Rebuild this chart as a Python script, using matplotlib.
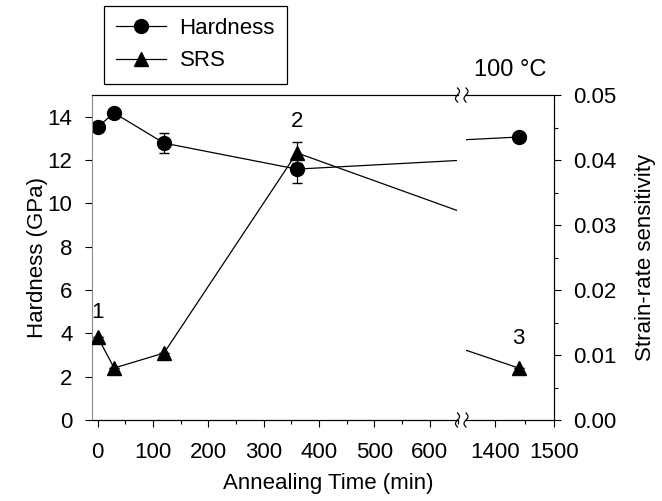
import numpy as np
import matplotlib.pyplot as plt
from matplotlib.lines import Line2D

plt.rcParams['font.family'] = ['Liberation Sans', 'DejaVu Sans']
plt.rcParams['font.size'] = 16

time = [0, 30, 120, 360, 1440]
hardness = [13.52, 14.17, 12.78, 11.58, 13.06]
hardness_err = [0.0, 0.0, 0.45, 0.62, 0.0]
srs = [0.0128, 0.0080, 0.0103, 0.0411, 0.0080]
srs_err = [0.0, 0.0, 0.0, 0.0016, 0.0]
point_labels = ['1', '2', '3']
point_label_idx = [0, 3, 4]
label_offset_px = [24, 31, 30]

W, H = 662, 501
fig = plt.figure(figsize=(W / 100, H / 100), dpi=100)

def fx(px):
    return px / W

def fy(py):
    return 1 - py / H

bot, top = fy(420), fy(95)
ax1 = fig.add_axes([fx(92), bot, fx(457.5) - fx(92), top - bot])
ax2 = fig.add_axes([fx(465.5), bot, fx(554) - fx(465.5), top - bot])
ax1r = ax1.twinx()
ax2r = ax2.twinx()

for a, ar in [(ax1, ax1r), (ax2, ax2r)]:
    a.errorbar(time, hardness, yerr=hardness_err, color='black', marker='o',
               markersize=10, linewidth=0.9, capsize=3.5, elinewidth=0.9)
    ar.errorbar(time, srs, yerr=srs_err, color='black', marker='^',
                markersize=10, linewidth=0.9, capsize=3.5, elinewidth=0.9)
    a.set_ylim(0, 15)
    ar.set_ylim(0, 0.05)
    for b in (a, ar):
        b.tick_params(direction='out', length=5, width=0.8, pad=9, which='major')
        b.tick_params(direction='out', length=3, width=0.8, which='minor')
    a.tick_params(axis='x', which='major', pad=11)

ax1.set_xlim(-10, 650)
ax2.set_xlim(1350, 1500)
ax1.set_xticks(np.arange(0, 601, 100))
ax1.set_xticks(np.arange(50, 651, 50), minor=True)
ax2.set_xticks([1400, 1500])
ax2.set_xticks([1450], minor=True)

ax1.set_yticks(np.arange(0, 15, 2))
ax1.spines['left'].set_color('#8c8c8c')
ax1.spines['right'].set_visible(False)
ax1r.spines['right'].set_visible(False)
ax1r.spines['left'].set_visible(False)
ax1r.set_yticks([])
ax1r.tick_params(right=False, labelright=False)

ax2.spines['left'].set_visible(False)
ax2r.spines['left'].set_visible(False)
ax2.set_yticks([])
ax2.tick_params(left=False, labelleft=False)
srs_ticks = np.arange(0, 0.051, 0.01)
ax2r.set_yticks(srs_ticks)
ax2r.set_yticks(np.arange(0.005, 0.05, 0.01), minor=True)
ax2r.set_yticklabels(['%.2f' % v for v in srs_ticks])

fig.text(fx(38), fy(257), 'Hardness (GPa)', rotation=90, ha='center', va='center')
fig.text(fx(645), fy(257), 'Strain-rate sensitivity', rotation=90, ha='center', va='center')
fig.text(fx(328), fy(484), 'Annealing Time (min)', ha='center', va='center')

# point annotations
for lab, i, off in zip(point_labels, point_label_idx, label_offset_px):
    a = ax1r if time[i] < 700 else ax2r
    a.annotate(lab, (time[i], srs[i]), xytext=(0, off * 0.72), textcoords='offset points',
               ha='center', va='center')

fig.text(fx(510), fy(70), '100 \u00b0C', ha='center', va='center', fontsize=17)

# axis break marks
def squiggle(xc, yc):
    t = np.linspace(-1, 1, 40)
    xs = xc + 2.0 * np.sin(t * np.pi) / W
    ys = yc + 7 * t / H
    fig.add_artist(Line2D(xs, ys, color='black', linewidth=0.9, transform=fig.transFigure))

for y in (top, bot):
    squiggle(fx(457.5), y)
    squiggle(fx(466), y)

handles = [Line2D([], [], color='black', marker='o', markersize=10, linewidth=0.9),
           Line2D([], [], color='black', marker='^', markersize=10, linewidth=0.9)]
leg = fig.legend(handles, ['Hardness', 'SRS'], loc='upper left',
                 bbox_to_anchor=(fx(104), fy(6)), borderaxespad=0, frameon=True,
                 fancybox=False, edgecolor='black', handlelength=2.25, fontsize=16,
                 handletextpad=0.6, borderpad=0.55, labelspacing=0.5, framealpha=1)
leg.get_frame().set_linewidth(0.9)

fig.savefig('out.png', dpi=100)
